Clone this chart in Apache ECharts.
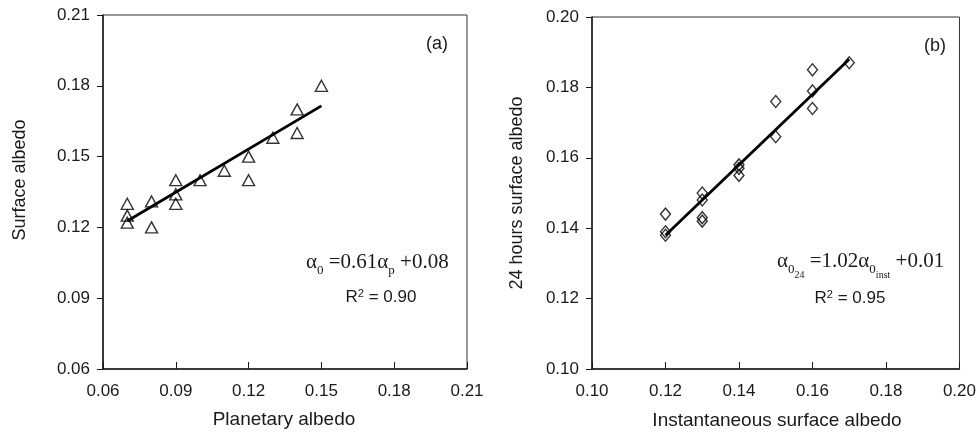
<!DOCTYPE html>
<html><head><meta charset="utf-8">
<script src="https://cdn.jsdelivr.net/npm/echarts@6/dist/echarts.min.js"></script>
<style>html,body{margin:0;padding:0;background:#fff}#c{width:979px;height:437px}</style>
</head><body><div id="c"></div>
<script>
// Panel (a)
const planetaryAlbedo = [0.07,0.07,0.07,0.08,0.08,0.09,0.09,0.09,0.10,0.11,0.12,0.12,0.13,0.14,0.14,0.15];
const surfaceAlbedo   = [0.130,0.125,0.122,0.131,0.120,0.140,0.134,0.130,0.140,0.144,0.150,0.140,0.158,0.170,0.160,0.180];
const fitAx = [0.07, 0.15];
const fitAy = [0.1227, 0.1715];
// Panel (b)
const instAlbedo = [0.12,0.12,0.12,0.13,0.13,0.13,0.13,0.14,0.14,0.14,0.15,0.15,0.16,0.16,0.16,0.17];
const albedo24   = [0.144,0.139,0.138,0.150,0.148,0.143,0.142,0.158,0.157,0.155,0.176,0.166,0.185,0.179,0.174,0.187];
const fitBx = [0.12, 0.17];
const fitBy = [0.138, 0.188];
// axis ranges / ticks
const axisA = {min:0.06, max:0.21, interval:0.03};
const axisB = {min:0.10, max:0.20, interval:0.02};

const ink = '#1a1a1a';
const sans = 'Liberation Sans, Arial, sans-serif';
const serif = 'Liberation Serif, Times New Roman, serif';

function pairs(xs, ys){ return xs.map((x,i)=>[x, ys[i]]); }

function xAx(idx, r){
  return {type:'value', gridIndex:idx, min:r.min, max:r.max, interval:r.interval,
    axisLine:{show:true, lineStyle:{color:ink, width:1.5}},
    axisTick:{show:true, inside:true, length:7, lineStyle:{color:ink, width:1}},
    axisLabel:{color:ink, fontFamily:sans, fontSize:17, margin:14,
      formatter:v=>v.toFixed(2)},
    splitLine:{show:false}};
}
function yAx(idx, r){
  return {type:'value', gridIndex:idx, min:r.min, max:r.max, interval:r.interval,
    axisLine:{show:true, lineStyle:{color:ink, width:1.5}},
    axisTick:{show:true, inside:false, length:6, lineStyle:{color:ink, width:1}},
    axisLabel:{color:ink, fontFamily:sans, fontSize:17, margin:13,
      formatter:v=>v.toFixed(2)},
    splitLine:{show:false}};
}

const chart = echarts.init(document.getElementById('c'), null, {renderer:'canvas'});
chart.setOption({
  animation:false,
  backgroundColor:'#fff',
  grid:[
    {left:103, top:15, width:364, height:354, show:true, borderColor:'#333', borderWidth:1},
    {left:592, top:17, width:368, height:352, show:true, borderColor:'#333', borderWidth:1}
  ],
  xAxis:[xAx(0, axisA), xAx(1, axisB)],
  yAxis:[yAx(0, axisA), yAx(1, axisB)],
  series:[
    {type:'line', xAxisIndex:0, yAxisIndex:0, data:pairs(fitAx, fitAy), symbol:'none',
      lineStyle:{color:'#000', width:2.8}, z:3},
    {type:'scatter', xAxisIndex:0, yAxisIndex:0, data:pairs(planetaryAlbedo, surfaceAlbedo),
      symbol:'triangle', symbolSize:[12,11],
      itemStyle:{color:'rgba(255,255,255,0)', borderColor:'#000', borderWidth:1.4}, z:4},
    {type:'line', xAxisIndex:1, yAxisIndex:1, data:pairs(fitBx, fitBy), symbol:'none',
      lineStyle:{color:'#000', width:2.8}, z:3},
    {type:'scatter', xAxisIndex:1, yAxisIndex:1, data:pairs(instAlbedo, albedo24),
      symbol:'diamond', symbolSize:[10,12],
      itemStyle:{color:'rgba(255,255,255,0)', borderColor:'#000', borderWidth:1.4}, z:4}
  ],
  graphic:[
    {type:'text', x:20, y:180, rotation:Math.PI/2,
      style:{text:'Surface albedo', fill:ink, font:'18px '+sans, align:'center', verticalAlign:'middle'}},
    {type:'text', x:284, y:420,
      style:{text:'Planetary albedo', fill:ink, font:'19px '+sans, align:'center', verticalAlign:'middle'}},
    {type:'text', x:517, y:193, rotation:Math.PI/2,
      style:{text:'24 hours surface albedo', fill:ink, font:'18px '+sans, align:'center', verticalAlign:'middle'}},
    {type:'text', x:777, y:421,
      style:{text:'Instantaneous surface albedo', fill:ink, font:'19px '+sans, align:'center', verticalAlign:'middle'}},
    {type:'text', x:437, y:44,
      style:{text:'(a)', fill:ink, font:'18px '+sans, align:'center', verticalAlign:'middle'}},
    {type:'text', x:935, y:46,
      style:{text:'(b)', fill:ink, font:'18px '+sans, align:'center', verticalAlign:'middle'}},
    {type:'text', x:306, y:252,
      style:{text:'{g|α}{s|0}{g| =0.61α}{s|p}{g| +0.08}', fill:ink,
        rich:{
          g:{fontFamily:serif, fontSize:21, lineHeight:22, verticalAlign:'top', fill:ink},
          s:{fontFamily:serif, fontSize:13, lineHeight:13, verticalAlign:'top', padding:[12,0,0,0], fill:ink}
        }}},
    {type:'text', x:381, y:297,
      style:{text:'{a|R}{b|2}{a| = 0.90}', align:'center', verticalAlign:'middle', fill:ink,
        rich:{
          a:{fontFamily:sans, fontSize:17, lineHeight:18, verticalAlign:'bottom', fill:ink},
          b:{fontFamily:sans, fontSize:11, lineHeight:11, verticalAlign:'top', fill:ink}
        }}},
    {type:'text', x:777, y:251,
      style:{text:'{g|α}{s|0}{ss|24}{g| =1.02α}{s|0}{ss|inst}{g| +0.01}', fill:ink,
        rich:{
          g:{fontFamily:serif, fontSize:21, lineHeight:22, verticalAlign:'top', fill:ink},
          s:{fontFamily:serif, fontSize:13, lineHeight:13, verticalAlign:'top', padding:[12,0,0,0], fill:ink},
          ss:{fontFamily:serif, fontSize:10, lineHeight:10, verticalAlign:'top', padding:[19,0,0,0], fill:ink}
        }}},
    {type:'text', x:850, y:298,
      style:{text:'{a|R}{b|2}{a| = 0.95}', align:'center', verticalAlign:'middle', fill:ink,
        rich:{
          a:{fontFamily:sans, fontSize:17, lineHeight:18, verticalAlign:'bottom', fill:ink},
          b:{fontFamily:sans, fontSize:11, lineHeight:11, verticalAlign:'top', fill:ink}
        }}}
  ]
});
</script>
</body></html>
